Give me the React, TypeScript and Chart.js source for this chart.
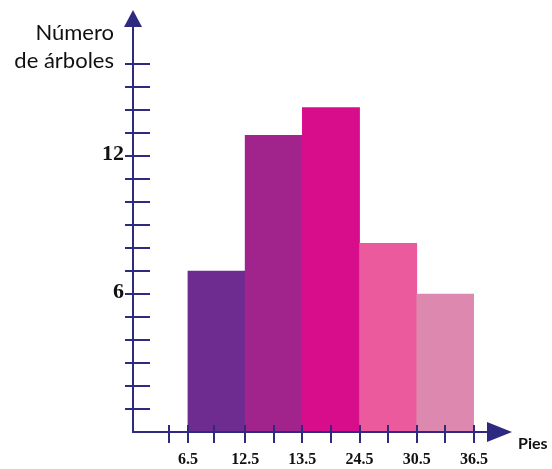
import React, { useEffect, useRef } from "react";
import { Chart, registerables } from "chart.js";

Chart.register(...registerables);

// ---- data ----
const binEdgeLabels = ["6.5", "12.5", "13.5", "24.5", "30.5", "36.5"];
const binCenters = [0.5, 1.5, 2.5, 3.5, 4.5];
const treeCounts = [7, 12.9, 14.1, 8.2, 6];
const barColors = ["#6E2C91", "#A0248C", "#D80D8C", "#EC5A9E", "#DD88AF"];
const yTickValues = [1, 2, 3, 4, 5, 6, 7, 8, 9, 10, 11, 12, 13, 14, 15, 16];
const yLabelValues = [6, 12];
const xTickValues = [-0.33, 0, 0.45, 1, 1.5, 2, 2.5, 3, 3.5, 4, 4.5, 5];
const xLabelValues = [0, 1, 2, 3, 4, 5];
const yTitleLines = ["Número", "de árboles"];
const xTitle = "Pies";

const AXIS_COLOR = "#2D2A7F";

const axesPlugin = {
  id: "customAxes",
  afterDraw(chart: any) {
    const ctx = chart.ctx as CanvasRenderingContext2D;
    const xs = chart.scales.x;
    const ys = chart.scales.y;
    const x0 = Math.round(xs.getPixelForValue(xs.min));
    const y0 = Math.round(ys.getPixelForValue(0));
    ctx.save();
    ctx.strokeStyle = AXIS_COLOR;
    ctx.fillStyle = AXIS_COLOR;
    ctx.lineWidth = 2;
    // y axis line
    ctx.beginPath();
    ctx.moveTo(x0, y0 + 1);
    ctx.lineTo(x0, 26);
    ctx.stroke();
    // y arrow
    ctx.beginPath();
    ctx.moveTo(x0 - 9, 27);
    ctx.lineTo(x0 + 9, 27);
    ctx.lineTo(x0, 10);
    ctx.closePath();
    ctx.fill();
    // x axis line
    ctx.beginPath();
    ctx.moveTo(x0 - 1, y0);
    ctx.lineTo(490, y0);
    ctx.stroke();
    // x arrow
    ctx.beginPath();
    ctx.moveTo(487, y0 - 10);
    ctx.lineTo(487, y0 + 10);
    ctx.lineTo(512, y0);
    ctx.closePath();
    ctx.fill();
    // y ticks
    for (const v of yTickValues) {
      const py = Math.round(ys.getPixelForValue(v));
      ctx.beginPath();
      ctx.moveTo(x0 - 8, py);
      ctx.lineTo(x0 + 17, py);
      ctx.stroke();
    }
    // x ticks
    for (const v of xTickValues) {
      const px = Math.round(xs.getPixelForValue(v));
      ctx.beginPath();
      ctx.moveTo(px, y0 - 7);
      ctx.lineTo(px, y0 + 11);
      ctx.stroke();
    }
    // y labels
    ctx.fillStyle = "#111";
    ctx.font = "bold 22px 'Liberation Serif', 'DejaVu Serif', serif";
    ctx.textAlign = "right";
    ctx.textBaseline = "alphabetic";
    for (const v of yLabelValues) {
      const py = ys.getPixelForValue(v);
      ctx.fillText(String(v), x0 - 9, py + 4);
    }
    // x labels
    ctx.font = "bold 16px 'Liberation Serif', 'DejaVu Serif', serif";
    ctx.textAlign = "center";
    ctx.textBaseline = "alphabetic";
    xLabelValues.forEach((v, i) => {
      const px = xs.getPixelForValue(v);
      ctx.fillText(binEdgeLabels[i], px, y0 + 32);
    });
    // y title
    ctx.font = "22px Lato, 'Open Sans', sans-serif";
    ctx.textAlign = "right";
    ctx.fillText(yTitleLines[0], 114, 40);
    ctx.fillText(yTitleLines[1], 114, 68);
    // x title
    ctx.font = "bold 16px Lato, 'Open Sans', sans-serif";
    ctx.textAlign = "left";
    ctx.fillText(xTitle, 518, y0 + 17);
    ctx.restore();
  },
};

export default function App() {
  const canvasRef = useRef<HTMLCanvasElement | null>(null);

  useEffect(() => {
    if (!canvasRef.current) return;
    const chart = new Chart(canvasRef.current, {
      type: "bar",
      data: {
        datasets: [
          {
            data: binCenters.map((c, i) => ({ x: c, y: treeCounts[i] })),
            backgroundColor: barColors,
            borderWidth: 0,
            barPercentage: 1,
            categoryPercentage: 1,
          },
        ],
      },
      options: {
        animation: false,
        responsive: false,
        layout: { padding: { left: 133, right: 78, top: 64, bottom: 37 } },
        plugins: { legend: { display: false }, tooltip: { enabled: false } },
        scales: {
          x: {
            type: "linear",
            display: false,
            offset: false,
            grid: { offset: false },
            min: -0.96,
            max: 5,
            afterBuildTicks: (scale: any) => {
              scale.ticks = xLabelValues.map((v) => ({ value: v }));
            },
          },
          y: {
            type: "linear",
            display: false,
            min: 0,
            max: 16,
          },
        },
      },
      plugins: [axesPlugin],
    });
    return () => chart.destroy();
  }, []);

  return (
    <div style={{ position: "fixed", left: 0, top: 0, width: 552, height: 469, background: "#fff" }}>
      <canvas ref={canvasRef} width={552} height={469} />
    </div>
  );
}
